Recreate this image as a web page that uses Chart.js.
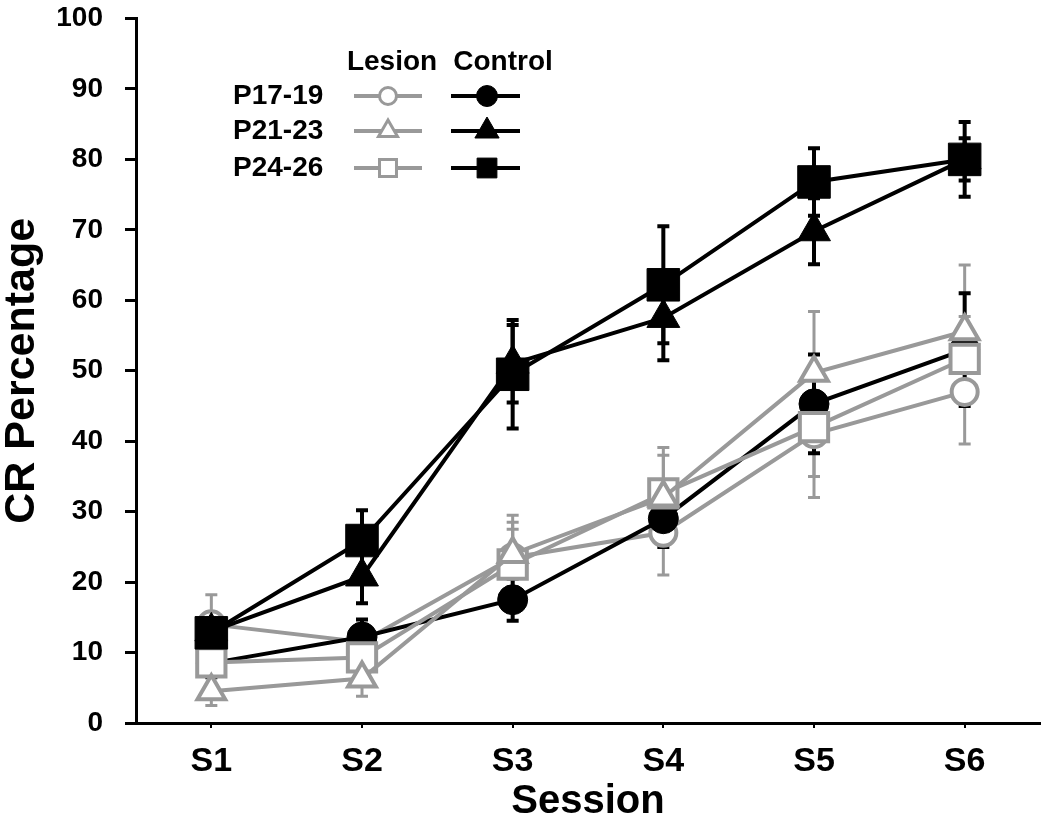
<!DOCTYPE html>
<html>
<head>
<meta charset="utf-8">
<script src="https://cdn.jsdelivr.net/npm/chart.js@4.4.1/dist/chart.umd.min.js"></script>
<style>
  html, body { margin: 0; padding: 0; background: #ffffff; }
  #wrap { width: 1050px; height: 822px; }
</style>
</head>
<body>
<div id="wrap"><canvas id="c" width="1050" height="822"></canvas></div>
<script>
// ---- data ----
const sessions = ['S1', 'S2', 'S3', 'S4', 'S5', 'S6'];
const groups = ['Lesion', 'Control'];
const ages = ['P17-19', 'P21-23', 'P24-26'];
const yTicks = [0, 10, 20, 30, 40, 50, 60, 70, 80, 90, 100];

const lesionP17 = [14.0, 11.5, 23.5, 27.0, 41.0, 47.0];
const lesionP21 = [4.5, 6.3, 24.0, 32.0, 49.7, 55.6];
const lesionP24 = [8.6, 9.3, 22.5, 32.6, 42.0, 51.7];
const controlP17 = [8.5, 12.2, 17.5, 29.0, 45.3, 53.0];
const controlP21 = [13.0, 20.8, 51.0, 57.5, 69.8, 80.0];
const controlP24 = [12.8, 25.9, 49.5, 62.2, 76.8, 80.0];

const lesionP17Err = [4.2, 2.0, 5.0, 6.0, 9.0, 7.4];
const lesionP21Err = [2.0, 2.5, 5.5, 6.0, 8.7, 9.4];
const lesionP24Err = [2.0, 2.0, 5.0, 6.5, 7.0, 6.0];
const controlP17Err = [2.0, 2.5, 3.0, 4.0, 7.0, 8.0];
const controlP21Err = [2.5, 3.8, 5.5, 6.0, 4.7, 3.0];
const controlP24Err = [2.5, 4.3, 7.7, 8.3, 4.8, 5.3];

// ---- styling ----
const GRAY = '#999999';
const BLACK = '#000000';
const FONT = '"Liberation Sans", Arial, Helvetica, sans-serif';

function lesionSet(label, data, err, style, r) {
  return {
    label, data, err, kind: 'lesion',
    borderColor: GRAY, backgroundColor: '#ffffff',
    borderWidth: 4, tension: 0,
    pointStyle: style, pointRadius: r, pointHoverRadius: r,
    pointBackgroundColor: '#ffffff', pointBorderColor: GRAY, pointBorderWidth: 4
  };
}
function controlSet(label, data, err, style, r) {
  return {
    label, data, err, kind: 'control',
    borderColor: BLACK, backgroundColor: BLACK,
    borderWidth: 4, tension: 0,
    pointStyle: style, pointRadius: r, pointHoverRadius: r,
    pointBackgroundColor: BLACK, pointBorderColor: BLACK, pointBorderWidth: 1
  };
}

// index 0 is drawn on top
const datasets = [
  controlSet('Control ' + ages[2], controlP24, controlP24Err, 'rect', 23),
  controlSet('Control ' + ages[1], controlP21, controlP21Err, 'triangle', 19),
  lesionSet('Lesion ' + ages[1], lesionP21, lesionP21Err, 'triangle', 16),
  lesionSet('Lesion ' + ages[2], lesionP24, lesionP24Err, 'rect', 20),
  controlSet('Control ' + ages[0], controlP17, controlP17Err, 'circle', 15),
  lesionSet('Lesion ' + ages[0], lesionP17, lesionP17Err, 'circle', 13)
];

const errorBars = {
  id: 'errorBars',
  beforeDatasetsDraw(chart) {
    const ctx = chart.ctx;
    const xs = chart.scales.x, ys = chart.scales.y;
    const order = [];
    chart.data.datasets.forEach((ds, i) => { if (ds.kind === 'lesion') order.push(i); });
    chart.data.datasets.forEach((ds, i) => { if (ds.kind === 'control') order.push(i); });
    ctx.save();
    order.forEach(i => {
      const ds = chart.data.datasets[i];
      const isC = ds.kind === 'control';
      ctx.strokeStyle = isC ? BLACK : GRAY;
      ctx.lineWidth = isC ? 4 : 3;
      ds.data.forEach((v, j) => {
        const e = ds.err[j];
        const x = xs.getPixelForValue(j);
        const yt = ys.getPixelForValue(v + e);
        const yb = ys.getPixelForValue(v - e);
        const cw = 6;
        ctx.beginPath();
        ctx.moveTo(x, yt); ctx.lineTo(x, yb);
        ctx.moveTo(x - cw, yt); ctx.lineTo(x + cw, yt);
        ctx.moveTo(x - cw, yb); ctx.lineTo(x + cw, yb);
        ctx.stroke();
      });
    });
    ctx.restore();
  }
};

function mark(ctx, style, r, x, y, fill, stroke, bw) {
  ctx.save();
  ctx.fillStyle = fill; ctx.strokeStyle = stroke; ctx.lineWidth = bw;
  Chart.helpers.drawPoint(ctx, { pointStyle: style, radius: r, borderWidth: bw, rotation: 0 }, x, y);
  ctx.restore();
}

const legendPlugin = {
  id: 'customLegend',
  afterDraw(chart) {
    const ctx = chart.ctx;
    ctx.save();
    ctx.font = 'bold 28px ' + FONT;
    ctx.fillStyle = BLACK;
    ctx.textBaseline = 'middle';
    ctx.textAlign = 'center';
    ctx.fillText(groups[0], 392, 62);
    ctx.fillText(groups[1], 503, 62);
    const rows = [96, 131, 168];
    const styles = ['circle', 'triangle', 'rect'];
    const lesionR = [8.5, 11, 12];
    const controlR = [10.5, 14, 14];
    ctx.textAlign = 'left';
    ages.forEach((a, k) => {
      const y = rows[k];
      ctx.fillStyle = BLACK;
      ctx.fillText(a, 233, y);
      ctx.strokeStyle = GRAY; ctx.lineWidth = 4;
      ctx.beginPath(); ctx.moveTo(354, y); ctx.lineTo(422, y); ctx.stroke();
      mark(ctx, styles[k], lesionR[k], 388, y, '#ffffff', GRAY, 3);
      ctx.strokeStyle = BLACK; ctx.lineWidth = 4;
      ctx.beginPath(); ctx.moveTo(451, y); ctx.lineTo(520, y); ctx.stroke();
      mark(ctx, styles[k], controlR[k], 487, y, BLACK, BLACK, 1);
    });
    ctx.restore();
  }
};

new Chart(document.getElementById('c'), {
  type: 'line',
  data: { labels: sessions, datasets },
  options: {
    responsive: false,
    devicePixelRatio: 1,
    animation: false,
    layout: { padding: 0, autoPadding: false },
    plugins: { legend: { display: false }, tooltip: { enabled: false } },
    scales: {
      x: {
        type: 'category',
        offset: true,
        afterFit(s) { s.height = 99; s.paddingLeft = 0; s.paddingRight = 10; },
        grid: { display: true, drawOnChartArea: false, offset: false, drawTicks: true, tickLength: 5, color: BLACK, lineWidth: 2 },
        border: { display: true, color: BLACK, width: 3 },
        ticks: { color: BLACK, padding: 17, font: { family: FONT, size: 34, weight: 'bold', lineHeight: 1 }, maxRotation: 0 },
        title: { display: true, text: 'Session', color: BLACK, padding: { top: 0, bottom: 0 }, font: { family: FONT, size: 40, weight: 'bold', lineHeight: 1 } }
      },
      y: {
        min: 0, max: 100,
        afterFit(s) { s.width = 136; s.paddingTop = 18.5; s.paddingBottom = 0; },
        afterBuildTicks(s) { s.ticks = yTicks.map(v => ({ value: v })); },
        grid: { display: true, drawOnChartArea: false, drawTicks: true, tickLength: 11, color: BLACK, lineWidth: 3 },
        border: { display: true, color: BLACK, width: 3 },
        ticks: { color: BLACK, padding: 22, font: { family: FONT, size: 28, weight: 'bold', lineHeight: 1.2 } },
        title: { display: true, text: 'CR Percentage', color: BLACK, padding: { top: 1, bottom: 0 }, font: { family: FONT, size: 43, weight: 'bold', lineHeight: 1 } }
      }
    }
  },
  plugins: [errorBars, legendPlugin]
});
</script>
</body>
</html>
